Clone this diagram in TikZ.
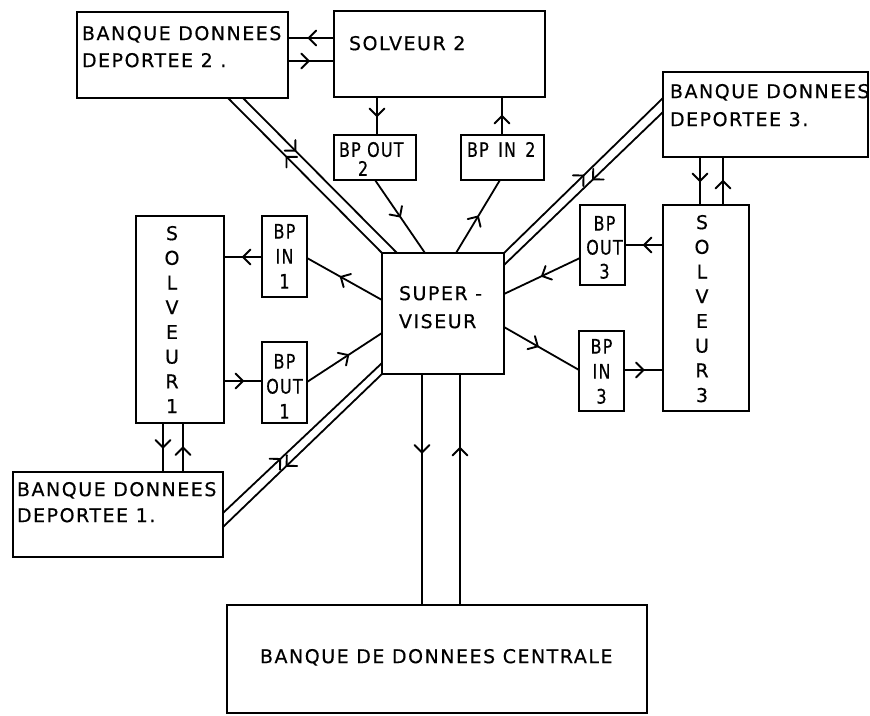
\documentclass[tikz,border=0pt]{standalone}
\usepackage{fontspec}
\setmainfont{DejaVu Sans}[LetterSpace=8,FakeBold=0.4]
\newfontfamily\bpfont{DejaVu Sans}[FakeStretch=0.8,LetterSpace=6,FakeBold=0.4]
\usetikzlibrary{decorations.markings,calc}
\begin{document}
\begin{tikzpicture}[x=1pt,y=-1pt,
  box/.style={draw, line width=2pt, rectangle, inner sep=0pt, outer sep=0pt},
  txt/.style={inner sep=0pt, outer sep=0pt, font=\fontsize{19}{27}\selectfont, align=left},
  bptxt/.style={inner sep=0pt, outer sep=0pt, font=\bpfont\fontsize{20}{25}\selectfont, align=center},
  vtxt/.style={inner sep=0pt, outer sep=0pt, font=\fontsize{19}{24.7}\selectfont, align=center},
  ln/.style={line width=1.8pt},
  midarrow/.style={postaction={decorate}, decoration={markings,
     mark=at position #1 with {\draw[line width=1.9pt, line cap=round] (-7.5pt,-7.5pt) -- (0pt,0pt) -- (-7.5pt,7.5pt);}}},
  midarrow/.default=0.5]
\useasboundingbox (0,0) rectangle (870,715);

% boxes
\node[box, minimum width=211pt, minimum height=86pt] (bd2) at (182.5,55) {};
\node[box, minimum width=211pt, minimum height=86pt] (s2) at (439.5,54) {};
\node[box, minimum width=82pt, minimum height=45pt] (bpo2) at (375,157.5) {};
\node[box, minimum width=83pt, minimum height=45pt] (bpi2) at (502.5,157.5) {};
\node[box, minimum width=122pt, minimum height=121pt] (sup) at (443,313.5) {};
\node[box, minimum width=205pt, minimum height=85pt] (bd3) at (765.5,114.5) {};
\node[box, minimum width=86pt, minimum height=206pt] (s3) at (706,308) {};
\node[box, minimum width=45pt, minimum height=80pt] (bpo3) at (602.5,245) {};
\node[box, minimum width=45pt, minimum height=80pt] (bpi3) at (601.5,371) {};
\node[box, minimum width=88pt, minimum height=207pt] (s1) at (180,319.5) {};
\node[box, minimum width=45pt, minimum height=81pt] (bpi1) at (284.5,256.5) {};
\node[box, minimum width=45pt, minimum height=81pt] (bpo1) at (284.5,382.5) {};
\node[box, minimum width=210pt, minimum height=85pt] (bd1) at (118,514.5) {};
\node[box, minimum width=420pt, minimum height=108pt] (bdc) at (437,659) {};

% texts
\node[txt, anchor=north west] (tbd2) at ($(bd2.north west)+(5,14)$) {BANQUE DONNEES\\DEPORTEE 2 .};
\node[txt, anchor=north west] (ts2) at ($(s2.north west)+(15,25)$) {SOLVEUR 2};
\node[bptxt, anchor=north west, align=left, font=\bpfont\fontsize{20}{19}\selectfont] (tbpo2) at ($(bpo2.north west)+(5,7)$) {BP OUT\\\hspace*{19pt}2};
\node[bptxt, anchor=north west] (tbpi2) at ($(bpi2.north west)+(6,7)$) {BP\hspace{3pt} IN\hspace{3pt} 2};
\node[txt, anchor=north west, font=\fontsize{19}{28}\selectfont] (tsup) at ($(sup.north west)+(17,33)$) {SUPER -\\VISEUR};
\node[txt, anchor=north west, font=\fontsize{19}{28}\selectfont] (tbd3) at ($(bd3.north west)+(7,12)$) {BANQUE DONNEES\\DEPORTEE 3.};
\node[vtxt, anchor=north] (ts3) at ($(s3.north)+(-4,10)$) {S\\O\\L\\V\\E\\U\\R\\3};
\node[bptxt, anchor=north, font=\bpfont\fontsize{20}{24}\selectfont] (tbpo3) at ($(bpo3.north)+(2,11)$) {BP\\OUT\\3};
\node[bptxt, anchor=north] (tbpi3) at ($(bpi3.north)+(0,8)$) {BP\\IN\\3};
\node[vtxt, anchor=north] (ts1) at ($(s1.north)+(-8,10)$) {S\\O\\L\\V\\E\\U\\R\\1};
\node[bptxt, anchor=north] (tbpi1) at ($(bpi1.north)+(0,8)$) {BP\\IN\\1};
\node[bptxt, anchor=north] (tbpo1) at ($(bpo1.north)+(0,12)$) {BP\\OUT\\1};
\node[txt, anchor=north west, font=\fontsize{19}{26}\selectfont] (tbd1) at ($(bd1.north west)+(4,10)$) {BANQUE DONNEES\\DEPORTEE 1.};
\node[txt, anchor=north west] (tbdc) at ($(bdc.north west)+(33,44)$) {BANQUE DE DONNEES CENTRALE};

% connectors: solveur 2 / banque 2
\draw[ln, midarrow=0.55] ($(s2.north west)+(0,27)$) -- ($(bd2.north east)+(0,26)$);
\draw[ln, midarrow=0.45] ($(bd2.north east)+(0,49)$) -- ($(s2.north west)+(0,50)$);
\draw[ln, midarrow] ($(s2.south west)+(43,0)$) -- ($(bpo2.north west)+(43,0)$);
\draw[ln, midarrow] ($(bpi2.north west)+(41,0)$) -- ($(s2.south west)+(168,0)$);
\draw[ln, midarrow] ($(bpo2.south west)+(41,0)$) -- ($(sup.north west)+(43,0)$);
\draw[ln, midarrow] ($(sup.north west)+(74,0)$) -- ($(bpi2.south west)+(39,0)$);
\draw[ln, midarrow=0.62] (sup.north west) -- ($(bd2.south west)+(151,0)$);
\draw[ln, midarrow=0.34] ($(bd2.south west)+(166,0)$) -- ($(sup.north west)+(15,0)$);

% banque 3 / solveur 3
\draw[ln, midarrow=0.5] (sup.north east) -- ($(bd3.north west)+(0,26)$);
\draw[ln, midarrow=0.44] ($(bd3.north west)+(0,40)$) -- ($(sup.north east)+(0,12)$);
\draw[ln, midarrow] ($(bd3.south west)+(37,0)$) -- ($(s3.north west)+(37,0)$);
\draw[ln, midarrow] ($(s3.north west)+(60,0)$) -- ($(bd3.south west)+(60,0)$);
\draw[ln, midarrow] ($(s3.north west)+(0,40)$) -- ($(bpo3.north east)+(0,40)$);
\draw[ln, midarrow] ($(bpi3.north east)+(0,39)$) -- ($(s3.north west)+(0,165)$);
\draw[ln, midarrow=0.45] ($(sup.north east)+(0,74)$) -- ($(bpi3.north west)+(0,39)$);
\draw[ln, midarrow=0.5] ($(bpo3.north west)+(0,53)$) -- ($(sup.north east)+(0,41)$);

% solveur 1 / banque 1
\draw[ln, midarrow] ($(bpi1.north west)+(0,41)$) -- ($(s1.north east)+(0,41)$);
\draw[ln, midarrow] ($(s1.north east)+(0,165)$) -- ($(bpo1.north west)+(0,39)$);
\draw[ln, midarrow=0.55] ($(sup.north west)+(0,47)$) -- ($(bpi1.north east)+(0,42)$);
\draw[ln, midarrow=0.55] ($(bpo1.north east)+(0,40)$) -- ($(sup.north west)+(0,80)$);
\draw[ln, midarrow=0.36] ($(bd1.north east)+(0,41)$) -- ($(sup.north west)+(0,110)$);
\draw[ln, midarrow=0.6] (sup.south west) -- ($(bd1.north east)+(0,55)$);
\draw[ln, midarrow] ($(s1.south west)+(27,0)$) -- ($(bd1.north west)+(150,0)$);
\draw[ln, midarrow] ($(bd1.north west)+(170,0)$) -- ($(s1.south west)+(47,0)$);

% superviseur / centrale
\draw[ln, midarrow=0.34] ($(sup.south west)+(40,0)$) -- ($(bdc.north west)+(195,0)$);
\draw[ln, midarrow=0.68] ($(bdc.north west)+(233,0)$) -- ($(sup.south west)+(78,0)$);
\end{tikzpicture}
\end{document}
